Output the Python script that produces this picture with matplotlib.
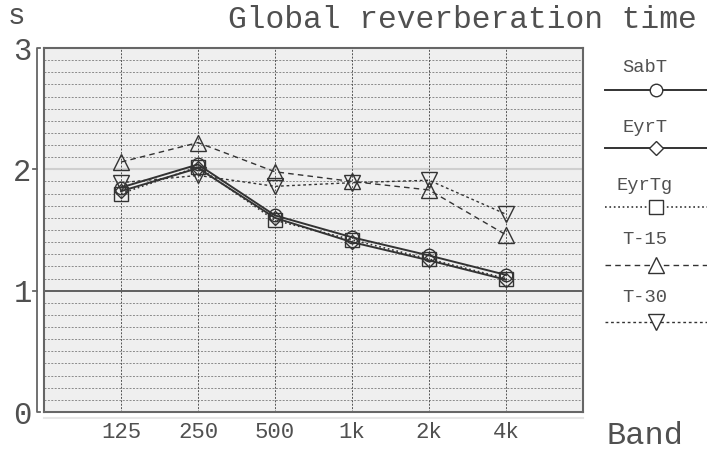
import matplotlib
matplotlib.use("Agg")
import matplotlib.pyplot as plt
from matplotlib.lines import Line2D

bands = ["125", "250", "500", "1k", "2k", "4k"]
sabt = [1.85, 2.04, 1.62, 1.44, 1.29, 1.13]
eyrt = [1.82, 2.01, 1.60, 1.40, 1.25, 1.09]
eyrtg = [1.80, 2.02, 1.58, 1.42, 1.26, 1.10]
t15 = [2.06, 2.22, 1.98, 1.90, 1.83, 1.46]
t30 = [1.89, 1.95, 1.86, 1.89, 1.91, 1.63]

series = [
    ("SabT", sabt, "o", "-", 1.4, 9),
    ("EyrT", eyrt, "D", "-", 1.4, 7),
    ("EyrTg", eyrtg, "s", ":", 1.2, 10),
    ("T-15", t15, "^", (0, (4, 3)), 1.0, 12),
    ("T-30", t30, "v", (0, (2, 2)), 1.0, 12),
]

mono = "Liberation Mono"
tc = "#505050"
fig = plt.figure(figsize=(7.07, 4.5), dpi=100)
fig.patch.set_facecolor("white")
W, H = 707, 450
L, R, T, B = 44, 583, 48, 412
ax = fig.add_axes([L / W, 1 - B / H, (R - L) / W, (B - T) / H])
ax.set_facecolor("#efefef")
x = list(range(len(bands)))
ax.set_xlim(-1, 6)
ax.set_ylim(0, 3)

# grid
for i in range(1, 30):
    v = i / 10
    if i == 10:
        ax.axhline(v, color="#555555", lw=1.3, zorder=1)
    elif i == 20:
        ax.axhline(v, color="#cfcfcf", lw=1.5, zorder=1)
    else:
        ax.axhline(v, color="#8a8a8a", lw=0.7, ls=(0, (2, 1.5)), zorder=1)
for xi in x:
    ax.axvline(xi, color="#555555", lw=0.7, ls=(0, (2, 1.5)), zorder=1)

for name, vals, m, ls, lw, ms in series:
    ax.plot(x, vals, color="#333333", ls=ls, lw=lw, marker=m, ms=ms,
            markerfacecolor="none", markeredgecolor="#333333", mew=1.0, zorder=3)

for s in ax.spines.values():
    s.set_color("#666666")
    s.set_linewidth(1.5)

ax.set_xticks(x)
ax.set_xticklabels(bands, fontfamily=mono, fontsize=16, color=tc)
ax.set_yticks([0, 1, 2, 3])
ax.set_yticklabels(["0", "1", "2", "3"], fontfamily=mono, fontsize=22, color=tc)
ax.tick_params(axis="both", length=0)
ax.tick_params(axis="x", pad=7)
ax.tick_params(axis="y", pad=9)

# y bracket axis
bx = -7 / (R - L)
tr = ax.transAxes
ax.plot([bx + 3 / (R - L), bx, bx, bx + 3 / (R - L)], [1, 1, 0, 0], transform=tr,
        color="#666666", lw=1.3, clip_on=False)
for v in (1, 2):
    ax.plot([bx - 4 / (R - L), bx], [v / 3, v / 3], transform=tr, color="#666666",
            lw=1.3, clip_on=False)
# light baseline below frame
ax.plot([0, 1], [-6 / (B - T), -6 / (B - T)], transform=tr, color="#e6e6e6",
        lw=1.5, clip_on=False)

fig.text(16 / W, 1 - 16 / H, "s", fontfamily=mono, fontsize=21, color=tc,
         ha="center", va="center")
fig.text(697 / W, 1 - 20 / H, "Global reverberation time", fontfamily=mono,
         fontsize=22.5, color=tc, ha="right", va="center")
fig.text(645 / W, 1 - 436 / H, "Band", fontfamily=mono, fontsize=23,
         color=tc, ha="center", va="center")

# legend
text_y = [68, 128, 185, 240, 298]
line_y = [90, 148, 207, 265, 322]
for (name, vals, m, ls, lw, ms), ty, ly in zip(series, text_y, line_y):
    fig.text(645 / W, 1 - ty / H, name, fontfamily=mono, fontsize=13.5,
             color=tc, ha="center", va="center")
    fig.add_artist(Line2D([605 / W, 707 / W], [1 - ly / H, 1 - ly / H],
                          transform=fig.transFigure, color="#333333", ls=ls, lw=lw))
    fig.add_artist(Line2D([656 / W], [1 - ly / H], transform=fig.transFigure,
                          marker=m, ms=ms, markerfacecolor="white",
                          markeredgecolor="#333333", mew=1.0, ls="none"))

fig.savefig("out.png", dpi=100, facecolor="white")
